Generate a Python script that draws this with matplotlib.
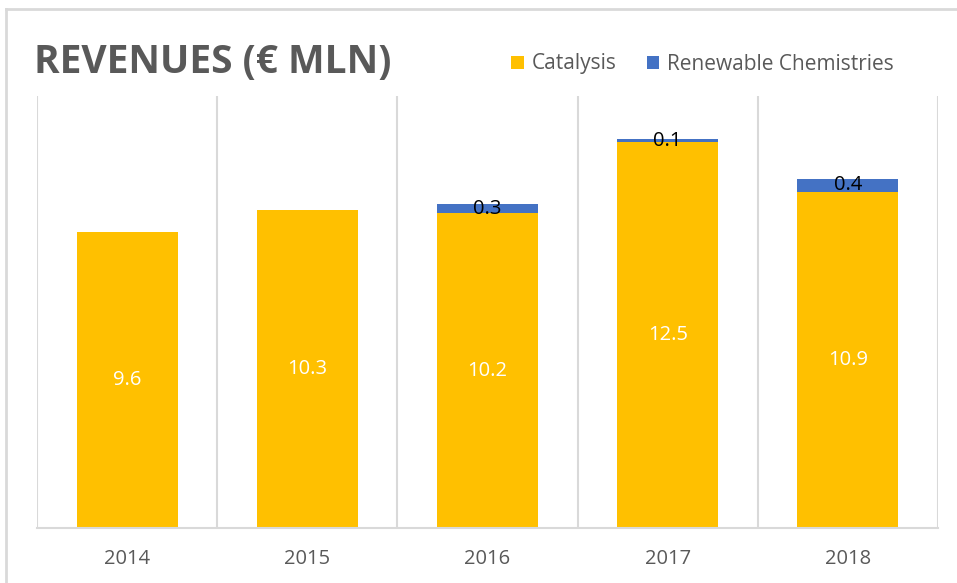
import numpy as np
import matplotlib.pyplot as plt
from matplotlib.lines import Line2D

plt.rcParams['font.family'] = ['Open Sans', 'DejaVu Sans']

# data
years = ['2014', '2015', '2016', '2017', '2018']
catalysis = [9.6, 10.3, 10.2, 12.5, 10.9]
renewable = [0.0, 0.0, 0.3, 0.1, 0.4]

yellow = '#FFC000'
blue = '#4472C4'
grey_txt = '#595959'
grid_col = '#D9D9D9'

fig = plt.figure(figsize=(9.57, 5.83), dpi=100)
ax = fig.add_axes([37 / 957, 55 / 583, 901 / 957, 432 / 583])

x = np.arange(len(years))
ax.bar(x, catalysis, width=0.56, color=yellow, label='Catalysis', zorder=2)
ax.bar(x, renewable, width=0.56, bottom=catalysis, color=blue,
       label='Renewable Chemistries', zorder=2)

# value labels
for xi, c, r in zip(x, catalysis, renewable):
    ax.text(xi, c / 2, f'{c:.1f}', ha='center', va='center',
            color='white', fontsize=14.5, zorder=3)
    if r > 0:
        ax.text(xi, c + r / 2, f'{r:.1f}', ha='center', va='center',
                color='black', fontsize=14.5, zorder=3)

ax.set_xlim(-0.5, len(years) - 0.5)
ax.set_ylim(0, 14)

# vertical separators between categories
for b in np.arange(-0.5, len(years), 1.0):
    ax.axvline(b, color=grid_col, lw=1.5, zorder=1)

ax.set_yticks([])
ax.set_xticks(x)
ax.set_xticklabels(years, color=grey_txt, fontsize=14.5)
ax.tick_params(axis='x', length=0, pad=15)
for s in ['top', 'right', 'left']:
    ax.spines[s].set_visible(False)
ax.spines['bottom'].set_color(grid_col)
ax.spines['bottom'].set_linewidth(1.5)

fig.text(34 / 957, 1 - 62 / 583, 'REVENUES (€ MLN)', fontsize=28,
         fontweight='bold', color=grey_txt, va='center', ha='left')

leg = fig.legend(loc='center left', bbox_to_anchor=(501 / 957, 1 - 64 / 583),
                 ncol=2, frameon=False, fontsize=15, handlelength=0.58,
                 handleheight=0.58, handletextpad=0.4, columnspacing=1.45,
                 labelcolor=grey_txt, borderpad=0)

# outer chart frame
fig.add_artist(Line2D([6 / 957, 1], [1 - 9 / 583, 1 - 9 / 583],
                      transform=fig.transFigure, color=grid_col, lw=2))
fig.add_artist(Line2D([6 / 957, 6 / 957], [0, 1 - 9 / 583],
                      transform=fig.transFigure, color=grid_col, lw=2))

fig.savefig('out.png', dpi=100)
